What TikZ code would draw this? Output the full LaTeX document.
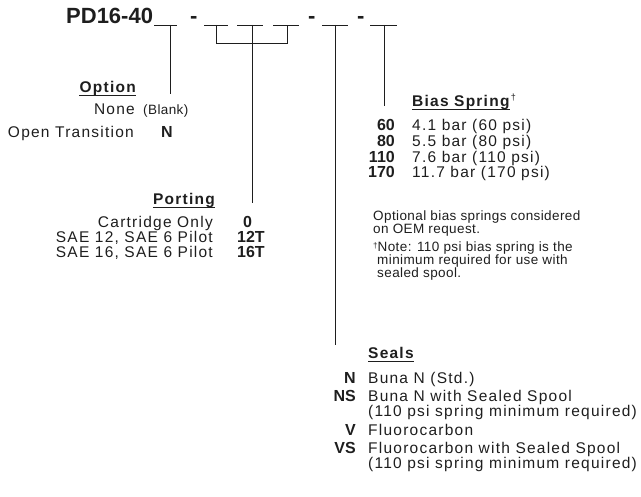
\documentclass[tikz,border=0pt]{standalone}
\usepackage{fontspec}
\setmainfont{Liberation Sans}
\newfontfamily\spacedfont[LetterSpace=8]{Liberation Sans}
\newfontfamily\smallfont[LetterSpace=3]{Liberation Sans}
\definecolor{ink}{RGB}{30,30,30}
\begin{document}
\begin{tikzpicture}[x=1pt,y=-1pt,
  txt/.style={inner sep=0pt, text=ink, font=\spacedfont\fontsize{15.5}{18}\selectfont},
  small/.style={inner sep=0pt, text=ink, font=\smallfont\fontsize{13.5}{15}\selectfont},
  code/.style={inner sep=0pt, text=ink, font=\fontsize{16}{18}\selectfont\bfseries},
  head/.style={inner sep=0pt, text=ink, font=\spacedfont\fontsize{15.5}{18}\selectfont\bfseries},
  titletxt/.style={inner sep=0pt, text=ink, font=\fontsize{22}{24}\selectfont\bfseries},
  lead/.style={draw=ink, line width=0.9pt},
  uline/.style={draw=ink, line width=1pt},
]
\useasboundingbox (0,0) rectangle (641,497);

% ---- title and blanks
\node[titletxt, anchor=base west] (title) at (66,24) {PD16-40};
\node[titletxt, anchor=base west] (h1) at (190,24) {-};
\node[titletxt, anchor=base west] (h2) at (308,24) {-};
\node[titletxt, anchor=base west] (h3) at (357,24) {-};

\coordinate (b1l) at (154,25); \coordinate (b1r) at (177,25);
\coordinate (b2l) at (204,25); \coordinate (b2r) at (228,25);
\coordinate (b3l) at (237,25); \coordinate (b3r) at (263,25);
\coordinate (b4l) at (273,25); \coordinate (b4r) at (299,25);
\coordinate (b5l) at (322,25); \coordinate (b5r) at (348,25);
\coordinate (b6l) at (370,25); \coordinate (b6r) at (397,25);
\foreach \i in {1,...,6} \draw[lead] (b\i l) -- (b\i r);

% ---- connectors
\coordinate (optTop) at (170,25);   \coordinate (optEnd) at (170,94);
\coordinate (brL) at (216,25);      \coordinate (brLb) at (216,43);
\coordinate (brR) at (287,25);      \coordinate (brRb) at (287,43);
\coordinate (portTop) at (252,25);  \coordinate (portEnd) at (252,203);
\coordinate (sealTop) at (335,25);  \coordinate (sealEnd) at (335,345);
\coordinate (biasTop) at (384.5,25);\coordinate (biasEnd) at (384.5,106);

\draw[lead] (optTop) -- (optEnd);
\draw[lead] (brL) -- (brLb) -- (brRb) -- (brR);
\draw[lead] (portTop) -- (portEnd);
\draw[lead] (sealTop) -- (sealEnd);
\draw[lead] (biasTop) -- (biasEnd);

% ---- Option
\node[head, anchor=base east] (opt) at (136,93) {Option};
\draw[uline] ([yshift=-3pt]opt.base west) -- ([yshift=-3pt]opt.base east);
\node[txt, anchor=base east] (none) at (135,115) {None};
\node[small, anchor=base west] (blank) at (143,115) {(Blank)};
\node[txt, anchor=base east] (ot) at (134,138) {Open Transition};
\node[code, anchor=base west] (optN) at (161,138) {N};

% ---- Porting
\node[head, anchor=base east] (port) at (215,205) {Porting};
\draw[uline] ([yshift=-3pt]port.base west) -- ([yshift=-3pt]port.base east);
\node[txt, anchor=base east] (cart) at (213,228) {Cartridge Only};
\node[txt, anchor=base east] (sae12) at (213,243) {SAE 12, SAE 6 Pilot};
\node[txt, anchor=base east] (sae16) at (213,258) {SAE 16, SAE 6 Pilot};
\node[code, anchor=base west] (p0) at (243,228) {0};
\node[code, anchor=base west] (p12) at (237,243) {12T};
\node[code, anchor=base west] (p16) at (237,258) {16T};

% ---- Bias spring
\node[head, anchor=base west] (bias) at (412,107) {Bias Spring};
\draw[uline] ([yshift=-3pt]bias.base west) -- ([yshift=-3pt]bias.base east);
\node[inner sep=0pt, text=ink, font=\fontsize{9}{9}\selectfont, anchor=base west] (dag) at ([xshift=1pt,yshift=6pt]bias.base east) {†};
\node[code, anchor=base east] (c60) at (395,131) {60};
\node[txt, anchor=base west] (d60) at (412,131) {4.1 bar (60 psi)};
\node[code, anchor=base east] (c80) at (395,147) {80};
\node[txt, anchor=base west] (d80) at (412,147) {5.5 bar (80 psi)};
\node[code, anchor=base east] (c110) at (395,163) {110};
\node[txt, anchor=base west] (d110) at (412,163) {7.6 bar (110 psi)};
\node[code, anchor=base east] (c170) at (395,178) {170};
\node[txt, anchor=base west] (d170) at (412,178) {11.7 bar (170 psi)};

\node[small, anchor=base west] (n1) at (373,220.5) {Optional bias springs considered};
\node[small, anchor=base west] (n2) at (373,233.5) {on OEM request.};
\node[small, anchor=base west] (n3) at (373,252) {\raisebox{3pt}{\fontsize{8}{8}\selectfont †}Note: 110 psi bias spring is the};
\node[small, anchor=base west] (n4) at (377,265) {minimum required for use with};
\node[small, anchor=base west] (n5) at (377,278) {sealed spool.};

% ---- Seals
\node[head, anchor=base west] (seals) at (368,359) {Seals};
\draw[uline] ([yshift=-3pt]seals.base west) -- ([yshift=-3pt]seals.base east);
\node[code, anchor=base east] (sN) at (356,384) {N};
\node[txt, anchor=base west] (dN) at (368,384) {Buna N (Std.)};
\node[code, anchor=base east] (sNS) at (356,402) {NS};
\node[txt, anchor=base west] (dNS) at (368,402) {Buna N with Sealed Spool};
\node[txt, anchor=base west] (dNS2) at (368,417) {(110 psi spring minimum required)};
\node[code, anchor=base east] (sV) at (356,436) {V};
\node[txt, anchor=base west] (dV) at (368,436) {Fluorocarbon};
\node[code, anchor=base east] (sVS) at (356,454) {VS};
\node[txt, anchor=base west] (dVS) at (368,454) {Fluorocarbon with Sealed Spool};
\node[txt, anchor=base west] (dVS2) at (368,469) {(110 psi spring minimum required)};
\end{tikzpicture}
\end{document}
